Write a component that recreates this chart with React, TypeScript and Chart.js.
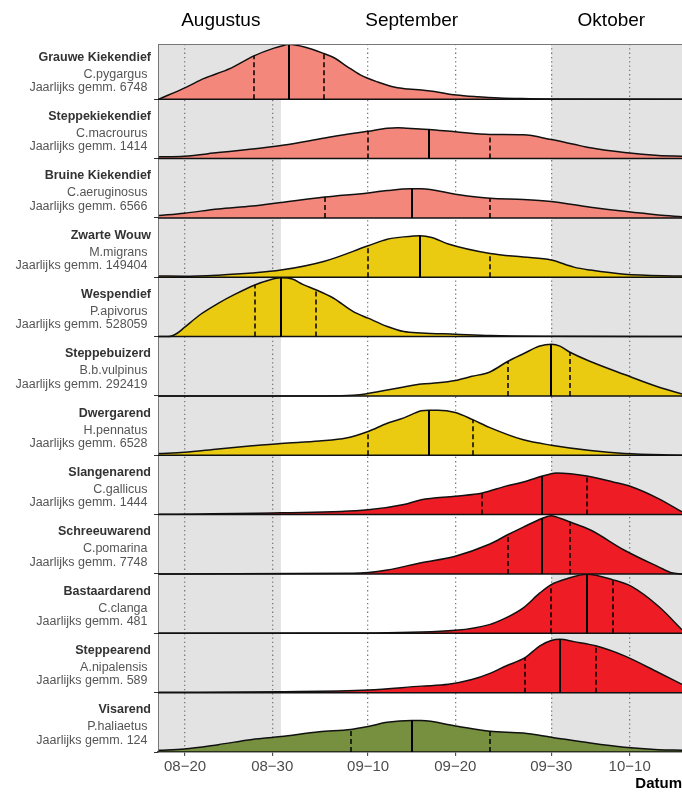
import React, { useEffect, useRef } from "react";
import { Chart, registerables } from "chart.js";

Chart.register(...registerables);

// ---------- data ----------
const speciesNames = [
  "Grauwe Kiekendief", "Steppekiekendief", "Bruine Kiekendief", "Zwarte Wouw",
  "Wespendief", "Steppebuizerd", "Dwergarend", "Slangenarend",
  "Schreeuwarend", "Bastaardarend", "Steppearend", "Visarend",
];
const latinNames = [
  "C.pygargus", "C.macrourus", "C.aeruginosus", "M.migrans",
  "P.apivorus", "B.b.vulpinus", "H.pennatus", "C.gallicus",
  "C.pomarina", "C.clanga", "A.nipalensis", "P.haliaetus",
];
const yearlyAvg = [6748, 1414, 6566, 149404, 528059, 292419, 6528, 1444, 7748, 481, 589, 124];
const fillColors = [
  "#F4877B", "#F4877B", "#F4877B", "#EACB12",
  "#EACB12", "#EACB12", "#EACB12", "#EE1D25",
  "#EE1D25", "#EE1D25", "#EE1D25", "#76903F",
];

// day index: 0 = 1 Aug
const daysGrauwe = [16.0, 19.1, 21.2, 24.2, 26.9, 29.2, 30.4, 30.9, 32.7, 34.9, 36.2, 37.6, 39.1, 41.1, 43.1, 44.6, 46.1, 47.6, 50.1, 52.6, 55.1, 57.6, 61.0, 76];
const densGrauwe = [0, 0.2, 0.35, 0.52, 0.73, 0.86, 0.91, 0.925, 0.88, 0.77, 0.69, 0.55, 0.41, 0.29, 0.2, 0.17, 0.155, 0.13, 0.07, 0.04, 0.02, 0.01, 0.003, 0];

const daysSteppekiek = [16.0, 18.9, 22.8, 26.7, 30.0, 32.5, 36.0, 40.0, 42.2, 43.4, 44.5, 47.0, 50.0, 54.0, 57.8, 61.0, 63.6, 65.5, 69.4, 73.3, 76];
const densSteppekiek = [0.03, 0.04, 0.1, 0.16, 0.22, 0.28, 0.37, 0.46, 0.51, 0.52, 0.51, 0.49, 0.45, 0.405, 0.4, 0.32, 0.24, 0.18, 0.1, 0.05, 0.04];

const daysBruine = [16.0, 18.9, 22.8, 26.7, 30.0, 35.0, 40.0, 42.2, 44.9, 46.1, 50.0, 54.0, 57.8, 61.0, 65.5, 69.4, 73.3, 76];
const densBruine = [0.04, 0.08, 0.15, 0.2, 0.26, 0.35, 0.42, 0.46, 0.49, 0.49, 0.4, 0.33, 0.31, 0.275, 0.18, 0.11, 0.05, 0.02];

const daysZwarte = [16.0, 18.9, 22.8, 26.7, 30.0, 35.0, 40.0, 42.2, 44.1, 46.0, 47.3, 49.2, 54.0, 57.8, 61.0, 63.6, 65.5, 69.4, 76];
const densZwarte = [0.02, 0.017, 0.035, 0.07, 0.12, 0.27, 0.53, 0.64, 0.68, 0.7, 0.67, 0.56, 0.4, 0.34, 0.29, 0.17, 0.12, 0.05, 0.02];

const daysWespen = [16.0, 17.1, 18.1, 18.9, 20.8, 22.8, 24.7, 27.0, 28.6, 30.0, 31.3, 32.5, 34.0, 36.0, 38.3, 40.0, 42.2, 44.1, 46.1, 50.0, 54.0, 61.0, 76];
const densWespen = [0, 0, 0.056, 0.15, 0.376, 0.56, 0.71, 0.87, 0.95, 0.99, 0.97, 0.88, 0.79, 0.65, 0.42, 0.31, 0.17, 0.084, 0.062, 0.04, 0.017, 0.005, 0];

const daysSteppebuiz = [16.0, 35.0, 38.3, 40.0, 42.2, 44.1, 46.1, 48.0, 50.0, 51.9, 53.9, 56.0, 57.8, 59.7, 61.0, 62.0, 63.1, 65.5, 69.4, 73.3, 76];
const densSteppebuiz = [0, 0, 0.01, 0.04, 0.1, 0.15, 0.2, 0.22, 0.26, 0.33, 0.4, 0.58, 0.71, 0.84, 0.87, 0.84, 0.74, 0.58, 0.36, 0.15, 0.03];

const daysDwerg = [16.0, 18.9, 22.8, 26.7, 30.0, 34.4, 37.5, 40.0, 42.2, 44.1, 46.1, 47.0, 48.0, 50.0, 52.0, 53.9, 57.8, 61.0, 65.5, 69.4, 76];
const densDwerg = [0.03, 0.05, 0.107, 0.16, 0.2, 0.24, 0.29, 0.4, 0.54, 0.63, 0.75, 0.76, 0.76, 0.72, 0.6, 0.47, 0.26, 0.17, 0.08, 0.03, 0];

const daysSlangen = [16.0, 30.0, 40.0, 44.1, 46.1, 50.0, 53.1, 55.8, 57.8, 60.0, 61.0, 61.6, 65.1, 68.1, 70.2, 73.3, 76];
const densSlangen = [0.006, 0.03, 0.08, 0.17, 0.25, 0.31, 0.365, 0.48, 0.55, 0.65, 0.69, 0.7, 0.65, 0.55, 0.47, 0.27, 0.045];

const daysSchreeuw = [16.0, 38.3, 42.2, 46.1, 50.0, 53.9, 56.0, 57.8, 60.0, 61.0, 62.0, 63.1, 65.5, 69.4, 73.3, 74.8, 76];
const densSchreeuw = [0, 0.01, 0.067, 0.19, 0.3, 0.5, 0.66, 0.79, 0.94, 0.98, 0.94, 0.88, 0.74, 0.4, 0.12, 0.02, 0];

const daysBastaard = [16.0, 39.9, 50.0, 53.9, 55.8, 57.8, 59.7, 61.0, 62.8, 65.1, 68.1, 70.2, 73.3, 76];
const densBastaard = [0, 0.006, 0.05, 0.146, 0.26, 0.43, 0.68, 0.82, 0.92, 0.995, 0.9, 0.79, 0.455, 0.06];

const daysSteppearend = [16.0, 30.0, 40.0, 46.1, 49.2, 51.9, 53.9, 55.8, 58.0, 59.7, 61.0, 62.0, 63.6, 66.1, 69.4, 73.3, 76];
const densSteppearend = [0.006, 0.017, 0.045, 0.11, 0.14, 0.22, 0.32, 0.45, 0.59, 0.79, 0.88, 0.9, 0.86, 0.79, 0.62, 0.34, 0.14];

const daysVis = [16.0, 18.9, 22.8, 26.7, 30.0, 34.4, 38.0, 40.0, 42.2, 45.0, 46.1, 50.0, 54.0, 57.8, 61.0, 65.5, 69.4, 73.3, 76];
const densVis = [0.03, 0.05, 0.124, 0.21, 0.26, 0.34, 0.38, 0.43, 0.5, 0.53, 0.53, 0.44, 0.35, 0.32, 0.25, 0.15, 0.08, 0.04, 0.03];

const quartile1 = [26.9, 40.0, 35.0, 40.0, 27.0, 56.0, 40.0, 53.1, 56.0, 61.0, 58.0, 38.0];
const medians = [30.9, 47.0, 45.0, 46.0, 30.0, 61.0, 47.0, 60.0, 60.0, 65.1, 62.0, 45.0];
const quartile3 = [34.9, 54.0, 54.0, 54.0, 34.0, 63.1, 52.0, 65.1, 63.1, 68.1, 66.1, 54.0];

const tickDays = [19, 29, 40, 50, 61, 70];
const tickLabels = ["08−20", "08−30", "09−10", "09−20", "09−30", "10−10"];
const monthNames = ["Augustus", "September", "Oktober"];
const monthLabelDays = [23.1, 45.0, 67.9];
const greyBands = [[15.9, 30.0], [61.0, 76.0]];
const xMin = 15.9;
const xMax = 76;

const seriesDays = [daysGrauwe, daysSteppekiek, daysBruine, daysZwarte, daysWespen, daysSteppebuiz, daysDwerg, daysSlangen, daysSchreeuw, daysBastaard, daysSteppearend, daysVis];
const seriesDens = [densGrauwe, densSteppekiek, densBruine, densZwarte, densWespen, densSteppebuiz, densDwerg, densSlangen, densSchreeuw, densBastaard, densSteppearend, densVis];

const FONT = "'Liberation Sans', Arial, Helvetica, sans-serif";
const N = speciesNames.length;
const baseOf = (i: number) => N - 1 - i;

function heightAt(xs: number[], ys: number[], x: number) {
  for (let k = 0; k < xs.length - 1; k++) {
    if (x >= xs[k] && x <= xs[k + 1]) {
      const t = (x - xs[k]) / (xs[k + 1] - xs[k] || 1);
      return ys[k] + t * (ys[k + 1] - ys[k]);
    }
  }
  return 0;
}

const ridgePlugin = {
  id: "ridgeDecor",
  beforeDraw(chart: any) {
    const { ctx, chartArea } = chart;
    const x = chart.scales.x;
    ctx.save();
    ctx.fillStyle = "#E3E3E3";
    greyBands.forEach(([a, b]) => {
      const x0 = Math.max(chartArea.left, x.getPixelForValue(a));
      const x1 = Math.min(chartArea.right, x.getPixelForValue(b));
      ctx.fillRect(x0, chartArea.top, x1 - x0, chartArea.bottom - chartArea.top);
    });
    ctx.restore();
  },
  afterDatasetsDraw(chart: any) {
    const { ctx, chartArea } = chart;
    const x = chart.scales.x;
    const y = chart.scales.y;
    ctx.save();
    ctx.beginPath();
    ctx.rect(chartArea.left, chartArea.top, chartArea.right - chartArea.left, chartArea.bottom - chartArea.top);
    ctx.clip();
    ctx.strokeStyle = "#000";
    for (let i = 0; i < N; i++) {
      const base = baseOf(i);
      const xs = seriesDays[i];
      const ys = seriesDens[i];
      const marks: [number, boolean][] = [[quartile1[i], true], [medians[i], false], [quartile3[i], true]];
      marks.forEach(([q, dashed]) => {
        const px = Math.round(x.getPixelForValue(q));
        const y0 = y.getPixelForValue(base);
        const y1 = y.getPixelForValue(base + heightAt(xs, ys, q));
        ctx.beginPath();
        ctx.lineWidth = dashed ? 1.5 : 2;
        ctx.setLineDash(dashed ? [5, 3] : []);
        ctx.moveTo(px, y0);
        ctx.lineTo(px, y1);
        ctx.stroke();
      });
    }
    ctx.setLineDash([]);
    ctx.restore();
    // top border
    ctx.save();
    ctx.strokeStyle = "#777";
    ctx.lineWidth = 1;
    ctx.beginPath();
    ctx.moveTo(chartArea.left, Math.round(chartArea.top) + 0.5);
    ctx.lineTo(chartArea.right, Math.round(chartArea.top) + 0.5);
    ctx.stroke();
    ctx.restore();
  },
  afterDraw(chart: any) {
    const { ctx } = chart;
    const x = chart.scales.x;
    const y = chart.scales.y;
    ctx.save();
    ctx.textBaseline = "middle";
    ctx.textAlign = "center";
    ctx.fillStyle = "#000";
    ctx.font = `19px ${FONT}`;
    monthNames.forEach((m, k) => {
      ctx.fillText(m, x.getPixelForValue(monthLabelDays[k]), 20.5);
    });
    ctx.textAlign = "right";
    for (let i = 0; i < N; i++) {
      const b = y.getPixelForValue(baseOf(i));
      ctx.font = `bold 12.5px ${FONT}`;
      ctx.fillStyle = "#333";
      ctx.fillText(speciesNames[i], 151, b - 42);
      ctx.font = `12.5px ${FONT}`;
      ctx.fillStyle = "#555";
      ctx.fillText(latinNames[i], 147.5, b - 25);
      ctx.fillText(`Jaarlijks gemm. ${yearlyAvg[i]}`, 147.5, b - 11.8);
    }
    ctx.restore();
  },
};

export default function App() {
  const ref = useRef<HTMLCanvasElement | null>(null);
  useEffect(() => {
    document.body.style.margin = "0";
    if (!ref.current) return;
    const datasets: any[] = [];
    for (let i = 0; i < N; i++) {
      const base = baseOf(i);
      datasets.push({
        label: speciesNames[i],
        data: seriesDays[i].map((d, k) => ({ x: d, y: base + seriesDens[i][k] })),
        borderColor: "#111",
        borderWidth: 1.5,
        backgroundColor: fillColors[i],
        fill: { value: base },
        pointRadius: 0,
        cubicInterpolationMode: "monotone",
        order: 1,
      });
      datasets.push({
        label: speciesNames[i] + " basis",
        data: [{ x: xMin, y: base }, { x: xMax, y: base }],
        borderColor: "#111",
        borderWidth: 1.5,
        fill: false,
        pointRadius: 0,
        order: 0,
      });
    }
    const chart = new Chart(ref.current, {
      type: "line",
      data: { datasets },
      plugins: [ridgePlugin],
      options: {
        animation: false,
        responsive: false,
        maintainAspectRatio: false,
        layout: { padding: { top: 44, right: 0, bottom: 0, left: 0 } },
        plugins: { legend: { display: false }, tooltip: { enabled: false } },
        scales: {
          x: {
            type: "linear",
            min: xMin,
            max: xMax,
            afterBuildTicks: (s: any) => {
              s.ticks = tickDays.map((v) => ({ value: v }));
            },
            afterFit: (s: any) => {
              s.height = 41;
            },
            ticks: {
              autoSkip: false,
              maxRotation: 0,
              padding: 2,
              color: "#4D4D4D",
              font: { family: FONT, size: 15 },
              callback: (_v: any, idx: number) => tickLabels[idx],
            },
            grid: {
              color: "#7a7a7a",
              lineWidth: 1.3,
              drawTicks: true,
              tickLength: 4,
              tickColor: "#333",
              tickWidth: 1,
              tickBorderDash: [],
            },
            border: { display: true, color: "#444", width: 1.5, dash: [1.3, 3] },
            title: {
              display: true,
              text: "Datum",
              align: "end",
              color: "#000",
              padding: 0,
              font: { family: FONT, size: 15, weight: "bold" },
            },
          },
          y: {
            type: "linear",
            min: 0,
            max: 11.93,
            afterBuildTicks: (s: any) => {
              s.ticks = speciesNames.map((_n, i) => ({ value: baseOf(i) }));
            },
            afterFit: (s: any) => {
              s.width = 158;
            },
            ticks: { display: false },
            grid: {
              drawOnChartArea: false,
              drawTicks: true,
              tickLength: 4,
              tickColor: "#333",
              tickWidth: 1,
            },
            border: { display: true, color: "#777", width: 1 },
          },
        },
      } as any,
    });
    return () => chart.destroy();
  }, []);
  return <canvas ref={ref} width={682} height={793} style={{ display: "block" }} />;
}
